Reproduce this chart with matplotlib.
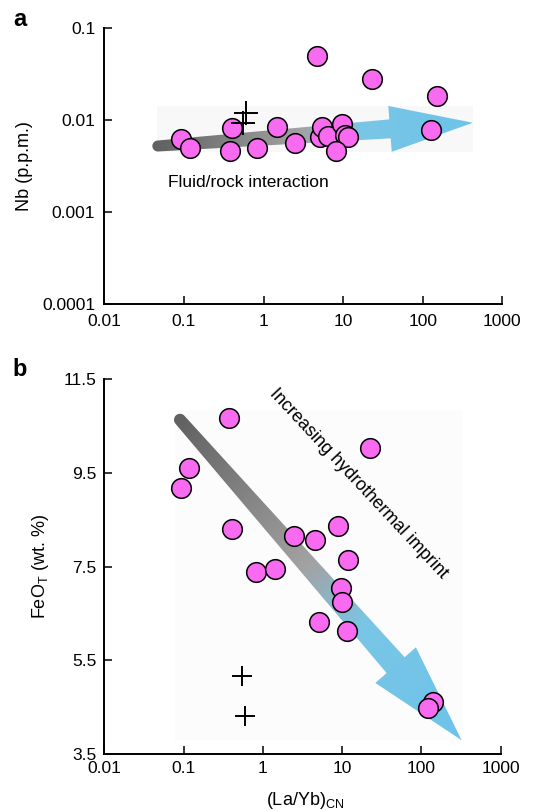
import numpy as np
import matplotlib
matplotlib.use('Agg')
import matplotlib.pyplot as plt
from matplotlib.colors import LinearSegmentedColormap
from matplotlib.patches import Polygon, Rectangle

plt.rcParams['font.family'] = ['Liberation Sans', 'DejaVu Sans']

# Panel a: Nb vs (La/Yb)CN
la_yb_a = [4.66, 22.9, 151, 127, 0.093, 0.118, 0.398, 0.379, 0.822, 1.47, 2.49,
           5.13, 5.38, 6.51, 9.6, 10.6, 11.6, 8.15]
nb = [0.0497, 0.0279, 0.0179, 0.00767, 0.00612, 0.00492, 0.00813, 0.00453, 0.00492,
      0.0084, 0.00558, 0.00653, 0.00826, 0.00665, 0.00897, 0.00683, 0.00653, 0.0046]
cross_la_yb_a = [0.60, 0.55]
cross_nb = [0.01175, 0.00927]

# Panel b: FeOT vs (La/Yb)CN
la_yb_b = [0.377, 22.6, 0.117, 0.0927, 0.404, 8.77, 2.47, 4.54, 11.7, 0.818, 1.43,
           9.66, 10.0, 5.14, 11.4, 141, 122]
feo = [10.66, 10.02, 9.60, 9.18, 8.30, 8.37, 8.16, 8.07, 7.64, 7.39, 7.45,
       7.04, 6.75, 6.31, 6.13, 4.62, 4.48]
cross_la_yb_b = [0.54, 0.59]
cross_feo = [5.17, 4.31]

x_ticks = [0.01, 0.1, 1, 10, 100, 1000]
x_labels = ['0.01', '0.1', '1', '10', '100', '1000']
nb_ticks = [0.0001, 0.001, 0.01, 0.1]
nb_labels = ['0.0001', '0.001', '0.01', '0.1']
feo_ticks = [3.5, 5.5, 7.5, 9.5, 11.5]

# trend arrows (start, tip) in data coords
arrow_a = ((0.047, 0.00518), (425, 0.00927))
arrow_b = ((0.09, 10.63), (321, 3.80))
# faint pasted-image backgrounds behind the arrows
bg_a = ((0.046, 0.00446), (429, 0.0141))
bg_b = ((0.078, 3.80), (333, 10.84))

PINK = '#f86af0'
arrow_cmap = LinearSegmentedColormap.from_list(
    'trend', [(0, '#626262'), (0.45, '#a2a2a2'), (0.65, '#7ac6e6'), (1, '#6cc3ea')])


def gradient_arrow(ax, start, end, w0, w1, head_w, head_len):
    p0 = ax.transData.transform(start)
    p1 = ax.transData.transform(end)
    d = p1 - p0
    L = np.hypot(*d)
    u = d / L
    n = np.array([-u[1], u[0]])
    base = p1 - u * head_len
    ang = np.linspace(np.pi / 2, 3 * np.pi / 2, 24)
    cap = [p0 + (w0 / 2) * (np.cos(a) * u + np.sin(a) * n) for a in ang]
    pts = np.array(cap + [base - n * w1 / 2, base - n * head_w / 2, p1,
                          base + n * head_w / 2, base + n * w1 / 2])
    inv = ax.transAxes.inverted()
    pts_ax = inv.transform(pts)

    xmin, ymin = pts.min(axis=0)
    xmax, ymax = pts.max(axis=0)
    X, Y = np.meshgrid(np.linspace(xmin, xmax, 300), np.linspace(ymin, ymax, 300))
    t = ((X - p0[0]) * u[0] + (Y - p0[1]) * u[1]) / L
    img = arrow_cmap(np.clip(t, 0, 1))
    (ex0, ey0), (ex1, ey1) = inv.transform([[xmin, ymin], [xmax, ymax]])
    im = ax.imshow(img, extent=(ex0, ex1, ey0, ey1), origin='lower', aspect='auto',
                   transform=ax.transAxes, interpolation='bilinear', zorder=1)
    im.set_clip_path(Polygon(pts_ax, closed=True, transform=ax.transAxes))


def faint_box(ax, corners, color):
    (x0, y0), (x1, y1) = corners
    ax.add_patch(Rectangle((x0, y0), x1 - x0, y1 - y0, facecolor=color,
                           edgecolor='none', zorder=0))


def style_axes(ax, xpad, ypad):
    for s in ['top', 'right']:
        ax.spines[s].set_visible(False)
    for s in ['left', 'bottom']:
        ax.spines[s].set_linewidth(1.4)
    ax.tick_params(direction='in', length=5.5, width=1.1, labelsize=12.5)
    ax.tick_params(axis='x', pad=xpad)
    ax.tick_params(axis='y', pad=ypad)
    ax.minorticks_off()


fig = plt.figure(figsize=(5.37, 8.11), dpi=100)

# ---- panel a
ax1 = fig.add_axes([0.1943, 0.6255, 0.7412, 0.3403])
ax1.set_xscale('log')
ax1.set_yscale('log')
ax1.set_xlim(0.01, 1000)
ax1.set_ylim(0.0001, 0.1)
faint_box(ax1, bg_a, '#f8f8f8')
gradient_arrow(ax1, arrow_a[0], arrow_a[1], 11, 19, 46, 83)
ax1.scatter(la_yb_a, nb, s=200, c=PINK, edgecolors='black', linewidths=1.1, zorder=3)
ax1.scatter(cross_la_yb_a, cross_nb, s=280, marker='+', c='black', linewidths=1.4, zorder=4)
ax1.text(0.0625, 0.00206, 'Fluid/rock interaction', fontsize=12.5, ha='left', va='center')
ax1.set_xticks(x_ticks)
ax1.set_xticklabels(x_labels)
ax1.set_yticks(nb_ticks)
ax1.set_yticklabels(nb_labels)
style_axes(ax1, 7.5, 6.5)
ax1.set_ylabel('Nb (p.p.m.)', fontsize=13)
ax1.yaxis.set_label_coords(-0.178, 0.5)
ax1.set_xlim(0.01, 1000)
ax1.set_ylim(0.0001, 0.1)

# ---- panel b
ax2 = fig.add_axes([0.1943, 0.0699, 0.7382, 0.4628])
ax2.set_xscale('log')
ax2.set_xlim(0.01, 1000)
ax2.set_ylim(3.5, 11.5)
faint_box(ax2, bg_b, '#fcfcfc')
gradient_arrow(ax2, arrow_b[0], arrow_b[1], 12, 24, 54, 100)
ax2.scatter(la_yb_b, feo, s=200, c=PINK, edgecolors='black', linewidths=1.1, zorder=3)
ax2.scatter(cross_la_yb_b, cross_feo, s=200, marker='+', c='black', linewidths=1.4, zorder=4)
ax2.text(15.96, 9.276, 'Increasing hydrothermal imprint', fontsize=13, rotation=-47,
         ha='center', va='center', rotation_mode='anchor')
ax2.set_xticks(x_ticks)
ax2.set_xticklabels(x_labels)
ax2.set_yticks(feo_ticks)
ax2.set_yticklabels([f'{v:.1f}' for v in feo_ticks])
style_axes(ax2, 5, 5.5)
ax2.set_ylabel('FeO$_\\mathregular{T}$ (wt. %)', fontsize=13)
ax2.yaxis.set_label_coords(-0.135, 0.5)
ax2.set_xlabel('(La/Yb)$_\\mathregular{CN}$', fontsize=13)
ax2.xaxis.set_label_coords(0.506, -0.095)
ax2.set_xlim(0.01, 1000)
ax2.set_ylim(3.5, 11.5)

fig.text(20 / 537, 1 - 20 / 811, 'a', fontsize=17, fontweight='bold', ha='center', va='center')
fig.text(20 / 537, 1 - 370 / 811, 'b', fontsize=17, fontweight='bold', ha='center', va='center')

fig.savefig('out.png', dpi=100)
